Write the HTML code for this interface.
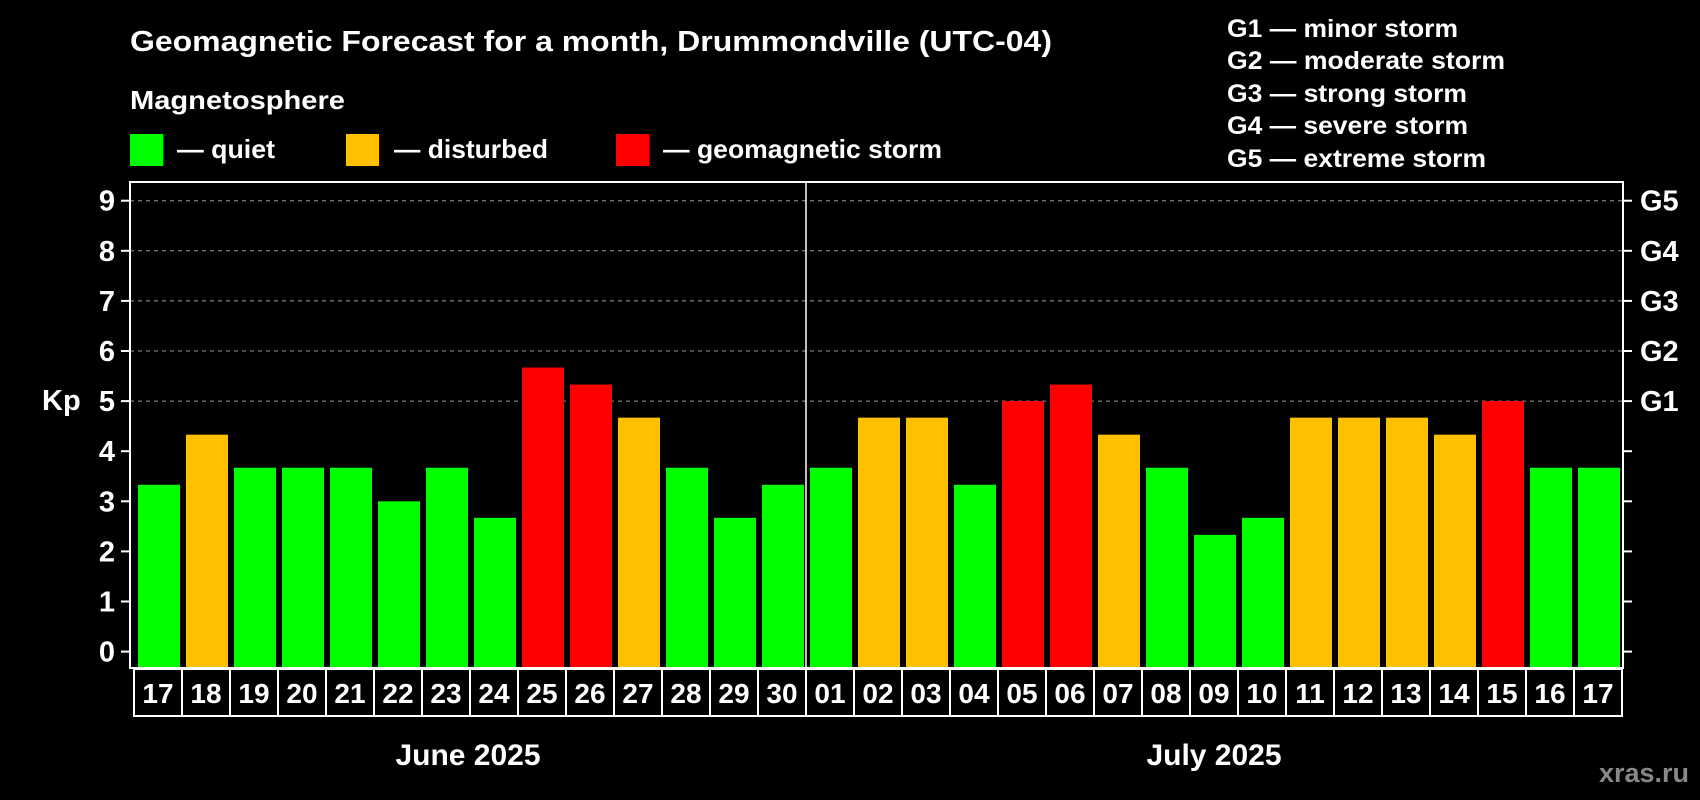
<!DOCTYPE html>
<html><head><meta charset="utf-8"><style>
html,body{margin:0;padding:0;background:#000;}
svg{display:block;font-family:"Liberation Sans",sans-serif;font-weight:bold;}
</style></head><body>
<svg id="chart" width="1700" height="800" viewBox="0 0 1700 800">
<text x="130" y="51" fill="#fff" font-size="29" textLength="922" lengthAdjust="spacingAndGlyphs">Geomagnetic Forecast for a month, Drummondville (UTC-04)</text>
<text x="130" y="109" fill="#fff" font-size="26" textLength="215" lengthAdjust="spacingAndGlyphs">Magnetosphere</text>
<g><rect x="130" y="134" width="33" height="32" fill="#00ff00"/><text x="177" y="158" fill="#fff" font-size="26" textLength="98" lengthAdjust="spacingAndGlyphs">— quiet</text></g>
<g><rect x="346" y="134" width="33" height="32" fill="#ffc000"/><text x="394" y="158" fill="#fff" font-size="26" textLength="154" lengthAdjust="spacingAndGlyphs">— disturbed</text></g>
<g><rect x="616" y="134" width="33" height="32" fill="#ff0000"/><text x="663" y="158" fill="#fff" font-size="26" textLength="279" lengthAdjust="spacingAndGlyphs">— geomagnetic storm</text></g>
<g fill="#fff" font-size="25">
<text x="1227" y="37" textLength="231" lengthAdjust="spacingAndGlyphs">G1 — minor storm</text>
<text x="1227" y="69" textLength="278" lengthAdjust="spacingAndGlyphs">G2 — moderate storm</text>
<text x="1227" y="102" textLength="240" lengthAdjust="spacingAndGlyphs">G3 — strong storm</text>
<text x="1227" y="134" textLength="241" lengthAdjust="spacingAndGlyphs">G4 — severe storm</text>
<text x="1227" y="167" textLength="259" lengthAdjust="spacingAndGlyphs">G5 — extreme storm</text>
</g>
<text x="42" y="410" fill="#fff" font-size="29">Kp</text>
<g id="grid"></g><g id="bars"></g><g id="axes"></g>
<text x="468" y="765" fill="#fff" font-size="30" text-anchor="middle">June 2025</text>
<text x="1214" y="765" fill="#fff" font-size="30" text-anchor="middle">July 2025</text>
<text x="1689" y="782" fill="#888" font-size="27" text-anchor="end">xras.ru</text>
</svg>
<script>
const days = ["17","18","19","20","21","22","23","24","25","26","27","28","29","30","01","02","03","04","05","06","07","08","09","10","11","12","13","14","15","16","17"];
const kpValues = [3.33,4.33,3.67,3.67,3.67,3,3.67,2.67,5.67,5.33,4.67,3.67,2.67,3.33,3.67,4.67,4.67,3.33,5,5.33,4.33,3.67,2.33,2.67,4.67,4.67,4.67,4.33,5,3.67,3.67];
const yTicks = [0,1,2,3,4,5,6,7,8,9];
const gLabels = ["G1","G2","G3","G4","G5"];
const NS="http://www.w3.org/2000/svg";
const L=130,R=1623,T=182,B=668,cell0=134,pitch=48;
function y(v){return 651.6-v*50.1;}
function xc(i){return cell0+i*pitch;}
function mk(tag,attrs,parent){const e=document.createElementNS(NS,tag);for(const k in attrs)e.setAttribute(k,attrs[k]);parent.appendChild(e);return e;}
const grid=document.getElementById('grid'),bars=document.getElementById('bars'),axes=document.getElementById('axes');
yTicks.forEach(v=>{
  if(v>=5){const g=mk('line',{x1:L,x2:R,y1:y(v),y2:y(v),stroke:'#999','stroke-width':1,'stroke-dasharray':'4 4'},grid);
  
  }
  const t=mk('line',{x1:L-9,x2:L,y1:y(v),y2:y(v),stroke:'#fff','stroke-width':2},axes);
  
  
  const t2=mk('line',{x1:R,x2:R+9,y1:y(v),y2:y(v),stroke:'#fff','stroke-width':2},axes);
  
  
  const lb=mk('text',{x:L-15,y:y(v)+10,fill:'#fff','font-size':29,'text-anchor':'end'},axes);lb.textContent=v;
  
  
});
gLabels.forEach((g,i)=>{const v=5+i;const lb=mk('text',{x:R+17,y:y(v)+10,fill:'#fff','font-size':29},axes);lb.textContent=g;
  
  });
kpValues.forEach((v,i)=>{
  const col=v>=5?'#ff0000':(v>=4?'#ffc000':'#00ff00');
  const r=mk('rect',{x:xc(i)+4,y:y(v),width:pitch-6,height:B-y(v),fill:col},bars);
  
  
  const c=mk('rect',{x:xc(i),y:B+1,width:pitch,height:47,fill:'none',stroke:'#fff','stroke-width':2},axes);
  
  
  const t=mk('text',{x:xc(i)+pitch/2,y:B+35,fill:'#fff','font-size':28,'text-anchor':'middle'},axes);t.textContent=days[i];
  
  
});
const box=mk('rect',{x:L,y:T,width:R-L,height:B-T,fill:'none',stroke:'#fff','stroke-width':2},axes);


const div=mk('line',{x1:xc(14),x2:xc(14),y1:T,y2:B,stroke:'#fff','stroke-width':1.5},axes);


</script>
</body></html>
